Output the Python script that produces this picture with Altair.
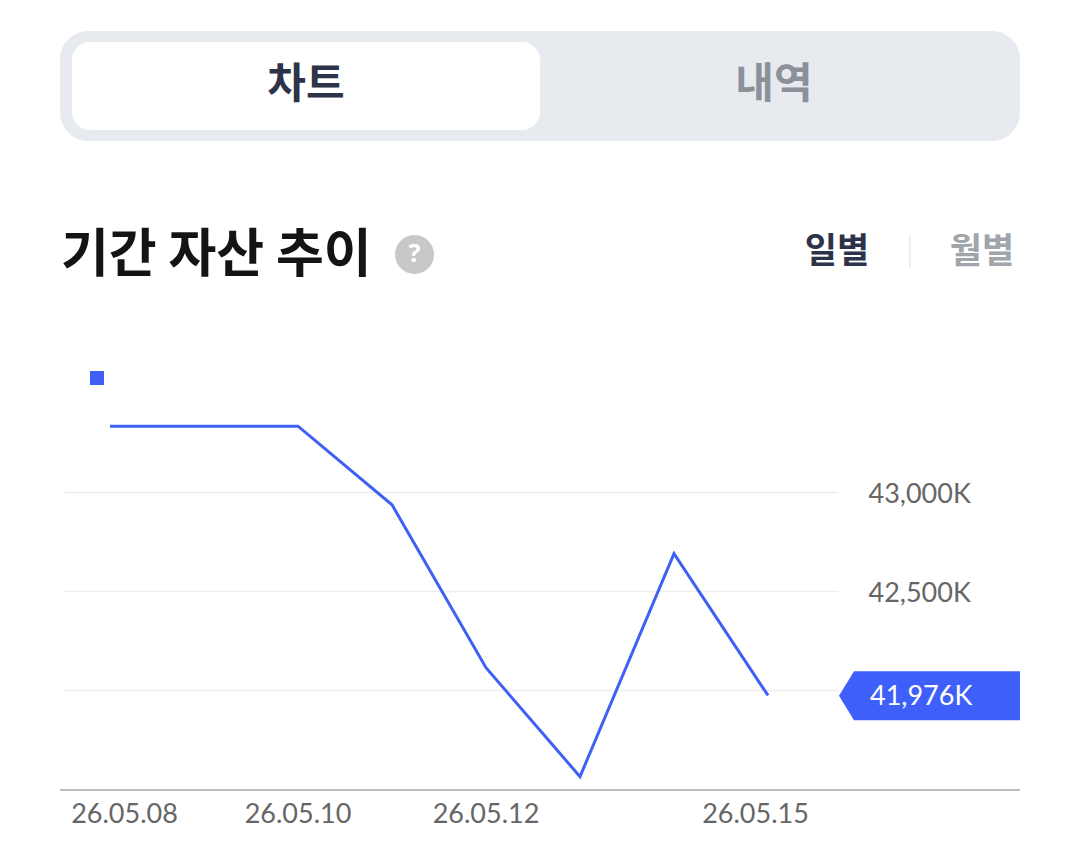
import altair as alt
import pandas as pd

dates = ["26.05.08", "26.05.09", "26.05.10", "26.05.11", "26.05.12", "26.05.13", "26.05.14", "26.05.15"]
values = [43336, 43336, 43336, 42939, 42116, 41566, 42692, 41976]
tick_values = [43000, 42500, 42000]
shown_dates = ["26.05.08", "26.05.10", "26.05.12", "26.05.15"]
date_label_shift = [14.5, 0, 0, -12.5]

BLUE = "#3f5ff5"
NAVY = "#2d3348"
KR = "Noto Sans CJK KR"
LAT = "Lato"

# page pixel -> plot pixel
X0, Y0 = 64, 330
W, H = 774, 460
def px(v): return v - X0
def py(v): return v - Y0

one = pd.DataFrame({"a": [0]})
df = pd.DataFrame({"i": list(range(len(dates))), "date": dates, "value": values})

x_scale = alt.Scale(domain=[-46 / 94, (W - 46) / 94], nice=False, zero=False)
y_scale = alt.Scale(domain=[42000 - 100 / 99 * 500, 43000 + 162 / 99 * 500], nice=False, zero=False)

def box(x1, x2, y1, y2, color, radius=0):
    return alt.Chart(one).mark_rect(color=color, cornerRadius=radius).encode(
        x=alt.value(px(x1)), x2=alt.value(px(x2)), y=alt.value(py(y1)), y2=alt.value(py(y2)))

def label(text, x, y, size, color, weight="bold", font=KR, align="center"):
    return alt.Chart(pd.DataFrame({"t": [text]})).mark_text(
        font=font, fontSize=size, fontWeight=weight, color=color, align=align, baseline="middle"
    ).encode(x=alt.value(px(x)), y=alt.value(py(y)), text="t:N")

layers = [
    box(60, 1020, 31, 141, "#e7eaef", 28),
    box(72, 540, 42, 130, "#ffffff", 18),
    label("차트", 306, 85, 42, NAVY),
    label("내역", 774, 85, 42, "#8b9099"),
    label("기간 자산 추이", 61, 256, 52, "#141414", align="left"),
    alt.Chart(one).mark_point(filled=True, shape="circle", size=1521, color="#c8c8c8", opacity=1, strokeWidth=0).encode(
        x=alt.value(px(414.5)), y=alt.value(py(254.5))),
    label("?", 414.5, 254, 25, "#ffffff", font="Noto Sans"),
    label("일별", 837, 252, 35, NAVY),
    box(909, 911, 235, 268, "#eeeff1"),
    label("월별", 982, 252, 35, "#a0a4ab"),
    alt.Chart(one).mark_square(size=196, color=BLUE, opacity=1, strokeWidth=0).encode(
        x=alt.value(px(97)), y=alt.value(py(378))),
]

line = alt.Chart(df).mark_line(color=BLUE, strokeWidth=3, strokeJoin="miter", yOffset=0.7).encode(
    x=alt.X("i:Q", scale=x_scale, axis=None),
    y=alt.Y("value:Q", scale=y_scale, axis=alt.Axis(
        orient="right", values=tick_values, title=None, domain=False, ticks=False,
        grid=True, gridColor="#eeeeee", gridWidth=1.5,
        labelExpr="datum.value === 42000 ? '' : format(datum.value, ',') + 'K'",
        labelFont=LAT, labelFontSize=27, labelColor="#666666", labelPadding=30,
        labelAlign="left", labelBaseline="middle", labelOffset=2)),
)
layers.append(line)

layers.append(box(60, 1020, 789, 791, "#bdbdbd"))

for d, shift in zip(shown_dates, date_label_shift):
    layers.append(
        alt.Chart(df[df["date"] == d]).mark_text(
            font=LAT, fontSize=27, color="#666666", align="center", baseline="middle", dx=shift
        ).encode(x=alt.X("i:Q", scale=x_scale), y=alt.value(py(815)), text="date:N"))

last = df.iloc[[-1]].assign(tag=f"{values[-1]:,}K")
tag_path = "M -1 0 L -0.834 -0.27 L 1 -0.27 L 1 0.27 L -0.834 0.27 Z"
layers.append(alt.Chart(last).mark_point(
    filled=True, shape=tag_path, size=181 ** 2, color="#3f5ffb", opacity=1, strokeWidth=0, yOffset=1
).encode(x=alt.value(px(929.5)), y=alt.Y("value:Q", scale=y_scale)))
layers.append(alt.Chart(last).mark_text(
    font=LAT, fontSize=27, color="#ffffff", align="left", baseline="middle", dy=2
).encode(x=alt.value(px(870)), y=alt.Y("value:Q", scale=y_scale), text="tag:N"))

chart = alt.layer(*layers).properties(
    width=W, height=H,
    padding={"left": X0 - 8, "top": Y0 - 8, "right": 1064 - (X0 - 8) - W, "bottom": 848 - (Y0 - 8) - H},
    autosize=alt.AutoSizeParams(type="none"),
    background="#ffffff",
).configure_view(stroke=None)

chart.save("out.html", embed_options={"renderer": "svg", "actions": False})
